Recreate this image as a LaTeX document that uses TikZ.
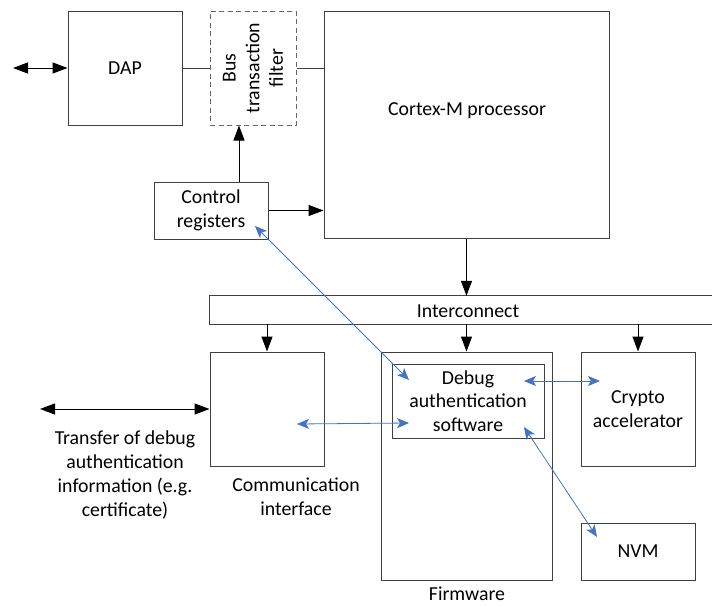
\documentclass[tikz,border=0pt]{standalone}
\usepackage{fontspec}
\setmainfont{Carlito}
\usetikzlibrary{arrows.meta,calc}
\definecolor{linkblue}{HTML}{4472C4}
\definecolor{boxgray}{HTML}{404040}
\begin{document}
\begin{tikzpicture}[x=1pt,y=-1pt,
  every node/.style={font=\fontsize{19.8}{23.7}\selectfont, inner sep=0pt, align=center},
  blk/.style={draw=boxgray, line width=1pt, rectangle},
  dashblk/.style={draw=boxgray!80, line width=1pt, dash pattern=on 5pt off 3.5pt, rectangle},
  conn/.style={black, line width=1pt, -{Triangle[length=15pt,width=11pt]}},
  dconn/.style={black, line width=1pt, {Triangle[length=15pt,width=11pt]}-{Triangle[length=15pt,width=11pt]}},
  plainconn/.style={boxgray, line width=1pt},
  bconn/.style={linkblue, line width=0.8pt, {Stealth[length=12pt,width=10pt,inset=3pt]}-{Stealth[length=12pt,width=10pt,inset=3pt]}}]
\useasboundingbox (0,0) rectangle (712,605);

% boxes
\node[blk, minimum width=114pt, minimum height=114pt] (dap) at (125,68) {DAP};
\node[dashblk, minimum width=86pt, minimum height=114pt] (filter) at (253,68) {};
\node[rotate=90] (filtertext) at (253,68) {Bus\\transaction\\filter};
\node[blk, minimum width=285pt, minimum height=227pt] (cortex) at (466.5,124.5) {};
\node (cortextext) at (467,111) {Cortex-M processor};
\node[blk, minimum width=114pt, minimum height=57pt] (ctrl) at (211,210.5) {Control\\registers};
\node[minimum width=504pt, minimum height=28pt] (ic) at (462,310) {};
\draw[boxgray, line width=1pt] (ic.north east) -- (ic.north west) -- (ic.south west) -- (ic.south east);
\node (ictext) at (468,311) {Interconnect};
\node[blk, minimum width=114pt, minimum height=114pt] (comm) at (267,409) {};
\node (commtext) at (296,497) {Communication\\interface};
\node[blk, minimum width=171pt, minimum height=228pt] (firmware) at (466.5,466) {};
\node (firmtext) at (467,594) {Firmware};
\node[blk, minimum width=152pt, minimum height=74pt] (debug) at (468,401) {Debug\\authentication\\software};
\node[blk, minimum width=114pt, minimum height=114pt] (crypto) at (638,409) {Crypto\\accelerator};
\node[blk, minimum width=114pt, minimum height=57pt] (nvm) at (638,551.5) {NVM};
\node (transfertext) at (125,475) {Transfer of debug\\authentication\\information (e.g.\\certificate)};

% free ends
\coordinate (dapext) at (13,68);
\coordinate (transext) at (40,409);

% black connectors
\draw[dconn] (dapext) -- (dap.west);
\draw[plainconn] (dap.east) -- (filter.west);
\draw[plainconn] (filter.east) -- (filter.east -| cortex.west);
\draw[conn] ([xshift=28pt]ctrl.north) -- ([xshift=28pt]ctrl.north |- filter.south);
\draw[conn] (ctrl.east) -- (ctrl.east -| cortex.west);
\draw[conn] (cortex.south) -- (cortex.south |- ic.north);
\draw[conn] (comm.north |- ic.south) -- (comm.north);
\draw[conn] (firmware.north |- ic.south) -- (firmware.north);
\draw[conn] (crypto.north |- ic.south) -- (crypto.north);
\draw[dconn] (transext) -- (comm.west);

% blue connector end points
\coordinate (ctrlp) at (255,226);
\coordinate (debugp1) at (409,380);
\coordinate (commp) at (297,424);
\coordinate (debugp2) at (409,423);
\coordinate (debugp3) at (524,381);
\coordinate (cryptop) at (600,381);
\coordinate (debugp4) at (524,427);
\coordinate (nvmp) at (597,537);

\draw[bconn] (ctrlp) -- (debugp1);
\draw[bconn] (commp) -- (debugp2);
\draw[bconn] (debugp3) -- (cryptop);
\draw[bconn] (debugp4) -- (nvmp);
\end{tikzpicture}
\end{document}
